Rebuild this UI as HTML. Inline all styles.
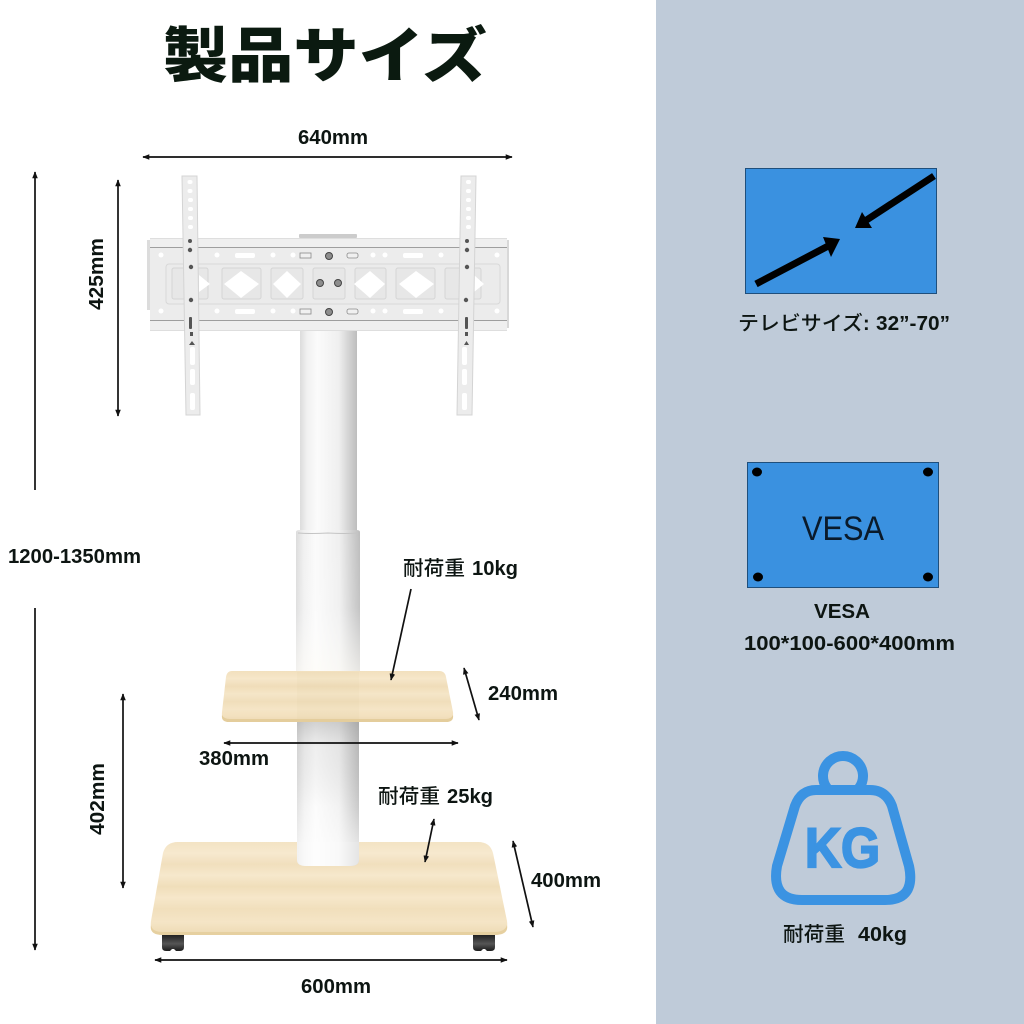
<!DOCTYPE html>
<html><head><meta charset="utf-8"><style>
html,body{margin:0;padding:0;background:#fff}
svg{display:block}
text{font-family:"Liberation Sans","Noto Sans CJK JP",sans-serif;font-weight:700;fill:#0d1512;font-size:20px}
.j{font-family:"Noto Sans CJK JP",sans-serif;font-weight:500;font-size:20px}
</style></head><body>
<svg width="1024" height="1024" viewBox="0 0 1024 1024" xmlns="http://www.w3.org/2000/svg">
<defs>
<linearGradient id="col" x1="0" x2="1" y1="0" y2="0">
<stop offset="0" stop-color="#dcdcdc"/><stop offset=".12" stop-color="#f0f0f0"/><stop offset=".3" stop-color="#fbfbfb"/><stop offset=".68" stop-color="#efefef"/><stop offset=".88" stop-color="#cfcfcf"/><stop offset="1" stop-color="#bdbdbd"/>
</linearGradient>
<linearGradient id="sl" x1="0" x2="0" y1="0" y2="1">
<stop offset="0" stop-color="#fff" stop-opacity="0"/><stop offset=".55" stop-color="#fff" stop-opacity=".1"/><stop offset="1" stop-color="#fffdf8" stop-opacity=".65"/>
</linearGradient>
<linearGradient id="lowc" x1="0" x2="0" y1="0" y2="1">
<stop offset="0" stop-color="#888" stop-opacity=".4"/><stop offset=".2" stop-color="#999" stop-opacity=".12"/><stop offset=".6" stop-color="#fff" stop-opacity=".2"/><stop offset="1" stop-color="#fff" stop-opacity=".8"/>
</linearGradient>
<linearGradient id="w1" x1="0" x2="0" y1="0" y2="1">
<stop offset="0" stop-color="#f2e0bd"/><stop offset=".15" stop-color="#f6e7ca"/><stop offset=".3" stop-color="#f0ddb9"/><stop offset=".45" stop-color="#f5e6c8"/><stop offset=".6" stop-color="#f0debb"/><stop offset=".75" stop-color="#f5e5c6"/><stop offset=".88" stop-color="#f3e1bf"/><stop offset="1" stop-color="#ecd8b0"/>
</linearGradient>
<linearGradient id="w2" x1="0" x2="0" y1="0" y2="1">
<stop offset="0" stop-color="#f3e3c3"/><stop offset=".12" stop-color="#f7e9cf"/><stop offset=".24" stop-color="#f1dfbd"/><stop offset=".36" stop-color="#f6e8cc"/><stop offset=".48" stop-color="#f0deba"/><stop offset=".6" stop-color="#f6e7ca"/><stop offset=".72" stop-color="#f1dfbc"/><stop offset=".86" stop-color="#f5e5c6"/><stop offset="1" stop-color="#eddab3"/>
</linearGradient>
<linearGradient id="wh" x1="0" x2="0" y1="0" y2="1"><stop offset="0" stop-color="#222"/><stop offset=".55" stop-color="#555"/><stop offset="1" stop-color="#1c1c1c"/></linearGradient>
<marker id="a" viewBox="0 0 10 8" refX="9" refY="4" markerWidth="7" markerHeight="5.600" markerUnits="userSpaceOnUse" orient="auto-start-reverse"><path d="M0 0L10 4L0 8Z" fill="#111"/></marker>
</defs>

<rect x="656" y="0" width="368" height="1024" fill="#bfcbd9"/>

<text x="163" y="77" style="font-family:'Noto Sans CJK JP',sans-serif;font-weight:900;font-size:60px;fill:#0b1a10" textLength="324" lengthAdjust="spacingAndGlyphs">製品サイズ</text>

<!-- column -->
<rect x="300" y="331" width="57" height="202" fill="url(#col)"/>
<path d="M296 532Q296 530 300 530L356 530Q360 530 360 532V672H296Z" fill="url(#col)"/>
<path d="M296 532Q296 530 300 530L356 530Q360 530 360 532V672H296Z" fill="url(#sl)"/>
<path d="M298 533Q310 534 328 533Q346 534 358 533" fill="none" stroke="#c4c4c4"/>
<path d="M297 718H359V860Q359 866 350 866H306Q297 866 297 860Z" fill="url(#col)"/>
<rect x="297" y="718" width="62" height="148" fill="url(#lowc)"/>

<!-- base -->
<path d="M178 842H478Q490 842 493 853L507 921Q509 935 494 935H163Q149 935 151 921L163 853Q166 842 178 842Z" fill="url(#w2)"/>
<path d="M151 925Q152 932 163 932H494Q505 932 507 925Q509 935 494 935H163Q149 935 151 925Z" fill="#e6d0a0"/>
<path d="M297 842H359V860Q359 866 350 866H306Q297 866 297 860Z" fill="url(#col)"/>
<path d="M297 842H359V860Q359 866 350 866H306Q297 866 297 860Z" fill="#fff" fill-opacity=".6"/>
<path d="M162 935H184V947Q184 951 180 951H176L174 949H172L170 951H166Q162 951 162 947Z" fill="url(#wh)"/>
<path d="M473 935H495V947Q495 951 491 951H487L485 949H483L481 951H477Q473 951 473 947Z" fill="url(#wh)"/>

<!-- shelf -->
<path d="M232 671H439Q445 671 446 677L453 712Q454 722 446 722H229Q221 722 222 712L226 677Q227 671 232 671Z" fill="url(#w1)"/>
<path d="M222 715Q224 719 230 719H446Q451 719 453 715Q454 722 446 722H229Q221 722 222 715Z" fill="#e4cd9c"/>
<rect x="297" y="672" width="62" height="47" fill="#cdb27e" fill-opacity=".05"/>

<!-- mount -->
<g>
<rect x="147" y="240" width="5" height="70" fill="#dcdcdc"/><rect x="504" y="240" width="5" height="88" fill="#d8d8d8"/>
<rect x="299" y="234" width="58" height="4" rx="1" fill="#cccccc"/>
<rect x="150" y="238" width="357" height="93" fill="#efefef"/>
<rect x="150" y="247" width="357" height="73" fill="#ececec"/>
<path d="M150 247.500H507M150 320.500H507" stroke="#9e9e9e"/>
<path d="M150 238.500H507M150 330.500H507" stroke="#dedede"/>
<rect x="166" y="264" width="334" height="40" rx="3" fill="#ebebeb" stroke="#d8d8d8"/>
<g stroke="#d4d4d4" fill="#e7e7e7">
<rect x="172" y="268" width="36" height="31" rx="2"/>
<rect x="222" y="268" width="39" height="31" rx="2"/>
<rect x="271" y="268" width="32" height="31" rx="2"/>
<rect x="313" y="268" width="32" height="31" rx="2"/>
<rect x="355" y="268" width="31" height="31" rx="2"/>
<rect x="396" y="268" width="39" height="31" rx="2"/>
<rect x="445" y="268" width="36" height="31" rx="2"/>
</g>
<g fill="#fff">
<path d="M224 284L241 271L259 284L241 298Z"/><path d="M273 284L287 271L301 284L287 298Z"/>
<path d="M354 284L370 271L385 284L370 298Z"/><path d="M399 284L416 271L434 284L416 298Z"/>
<path d="M199 275L210 284L199 292Z"/><path d="M474 275L484 284L474 292Z"/>
<rect x="235" y="253" width="20" height="5" rx="2"/><rect x="235" y="309" width="20" height="5" rx="2"/>
<rect x="403" y="253" width="20" height="5" rx="2"/><rect x="403" y="309" width="20" height="5" rx="2"/>
<circle cx="217" cy="255" r="2.500"/><circle cx="273" cy="255" r="2.500"/><circle cx="293" cy="255" r="2.500"/><circle cx="373" cy="255" r="2.500"/><circle cx="385" cy="255" r="2.500"/><circle cx="441" cy="255" r="2.500"/><circle cx="497" cy="255" r="2.500"/><circle cx="161" cy="255" r="2.500"/>
<circle cx="217" cy="311" r="2.500"/><circle cx="273" cy="311" r="2.500"/><circle cx="293" cy="311" r="2.500"/><circle cx="373" cy="311" r="2.500"/><circle cx="385" cy="311" r="2.500"/><circle cx="441" cy="311" r="2.500"/><circle cx="497" cy="311" r="2.500"/><circle cx="161" cy="311" r="2.500"/>
</g>
<g fill="#f0f0f0" stroke="#8a8a8a" stroke-width=".8">
<rect x="300" y="253" width="11" height="5"/><rect x="347" y="253" width="11" height="5" rx="2"/>
<rect x="300" y="309" width="11" height="5"/><rect x="347" y="309" width="11" height="5" rx="2"/>
</g>
<g fill="#8d8d8d" stroke="#444" stroke-width="1">
<circle cx="329" cy="256" r="3.500"/><circle cx="329" cy="312" r="3.500"/><circle cx="320" cy="283" r="3.500"/><circle cx="338" cy="283" r="3.500"/>
</g>
<!-- strips -->
<path d="M182 176H197L200 415H186Z" fill="#ececec" stroke="#d4d4d4"/>
<path d="M461 176H476L472 415H457Z" fill="#ececec" stroke="#d4d4d4"/>
<g fill="#fff">
<rect x="187.500" y="180" width="5" height="4" rx="2"/><rect x="187.500" y="189" width="5" height="4" rx="2"/><rect x="188" y="198" width="5" height="4" rx="2"/><rect x="188" y="207" width="5" height="4" rx="2"/><rect x="188" y="216" width="5" height="4" rx="2"/><rect x="188" y="225" width="5" height="4" rx="2"/>
<rect x="466" y="180" width="5" height="4" rx="2"/><rect x="466" y="189" width="5" height="4" rx="2"/><rect x="466" y="198" width="5" height="4" rx="2"/><rect x="466" y="207" width="5" height="4" rx="2"/><rect x="466" y="216" width="5" height="4" rx="2"/><rect x="466" y="225" width="5" height="4" rx="2"/>
<rect x="190" y="347" width="5" height="18" rx="2"/><rect x="190" y="369" width="5" height="16" rx="2"/><rect x="190" y="393" width="5" height="17" rx="2"/>
<rect x="462" y="347" width="5" height="18" rx="2"/><rect x="462" y="369" width="5" height="16" rx="2"/><rect x="462" y="393" width="5" height="17" rx="2"/>
</g>
<g fill="#555">
<circle cx="190" cy="241" r="2"/><circle cx="190" cy="250" r="2.200"/><circle cx="191" cy="267" r="2.200"/><circle cx="191" cy="300" r="2.200"/>
<circle cx="467" cy="241" r="2"/><circle cx="467" cy="250" r="2.200"/><circle cx="467" cy="267" r="2.200"/><circle cx="466" cy="300" r="2.200"/>
<rect x="189" y="317" width="3" height="12" rx="1"/><rect x="465" y="317" width="3" height="12" rx="1"/>
<rect x="190" y="332" width="3" height="4"/><path d="M189 345L192 341L195 345Z"/>
<rect x="465" y="332" width="3" height="4"/><path d="M464 345L466.500 341L469 345Z"/>
</g>
</g>

<!-- dims -->
<g stroke="#111" stroke-width="1.700" fill="none">
<line x1="143" y1="157" x2="512" y2="157" marker-start="url(#a)" marker-end="url(#a)"/>
<line x1="118" y1="180" x2="118" y2="416" marker-start="url(#a)" marker-end="url(#a)"/>
<line x1="35" y1="172" x2="35" y2="490" marker-start="url(#a)"/>
<line x1="35" y1="608" x2="35" y2="950" marker-end="url(#a)"/>
<line x1="411" y1="589" x2="391" y2="680" marker-end="url(#a)"/>
<line x1="464" y1="668" x2="479" y2="720" marker-start="url(#a)" marker-end="url(#a)"/>
<line x1="224" y1="743" x2="458" y2="743" marker-start="url(#a)" marker-end="url(#a)"/>
<line x1="123" y1="694" x2="123" y2="888" marker-start="url(#a)" marker-end="url(#a)"/>
<line x1="434" y1="819" x2="425" y2="862" marker-start="url(#a)" marker-end="url(#a)"/>
<line x1="513" y1="841" x2="533" y2="927" marker-start="url(#a)" marker-end="url(#a)"/>
<line x1="155" y1="960" x2="507" y2="960" marker-start="url(#a)" marker-end="url(#a)"/>
</g>

<text x="298" y="144" textLength="70" lengthAdjust="spacingAndGlyphs">640mm</text>
<text transform="translate(103 310) rotate(-90)" textLength="72" lengthAdjust="spacingAndGlyphs">425mm</text>
<text x="8" y="563" textLength="133" lengthAdjust="spacingAndGlyphs">1200-1350mm</text>
<text class="j" x="403" y="575" textLength="62" lengthAdjust="spacingAndGlyphs">耐荷重</text><text x="472" y="575" textLength="46" lengthAdjust="spacingAndGlyphs">10kg</text>
<text x="488" y="700" textLength="70" lengthAdjust="spacingAndGlyphs">240mm</text>
<text x="199" y="765" textLength="70" lengthAdjust="spacingAndGlyphs">380mm</text>
<text transform="translate(104 835) rotate(-90)" textLength="72" lengthAdjust="spacingAndGlyphs">402mm</text>
<text class="j" x="378" y="803" textLength="62" lengthAdjust="spacingAndGlyphs">耐荷重</text><text x="447" y="803" textLength="46" lengthAdjust="spacingAndGlyphs">25kg</text>
<text x="531" y="887" textLength="70" lengthAdjust="spacingAndGlyphs">400mm</text>
<text x="301" y="993" textLength="70" lengthAdjust="spacingAndGlyphs">600mm</text>

<!-- TV size -->
<rect x="745.500" y="168.500" width="191" height="125" fill="#3a91e0" stroke="#1f4f7c"/>
<g stroke="#000" stroke-width="7" fill="none"><line x1="756" y1="284" x2="832" y2="244"/><line x1="934" y1="176" x2="862" y2="223"/></g>
<path d="M840 239L823 237L831 257Z" fill="#000"/><path d="M855 228L862 212L872 228Z" fill="#000"/>
<text class="j" x="738" y="330" textLength="125" lengthAdjust="spacingAndGlyphs">テレビサイズ</text>
<text x="863" y="330">:</text>
<text x="876" y="330" textLength="74" lengthAdjust="spacingAndGlyphs">32”-70”</text>

<!-- VESA -->
<rect x="747.500" y="462.500" width="191" height="125" fill="#3a91e0" stroke="#1f4f7c"/>
<g fill="#000"><ellipse cx="757" cy="472" rx="5" ry="4.500"/><ellipse cx="928" cy="472" rx="5" ry="4.500"/><ellipse cx="758" cy="577" rx="5" ry="4.500"/><ellipse cx="928" cy="577" rx="5" ry="4.500"/></g>
<text x="802" y="540" textLength="82" lengthAdjust="spacingAndGlyphs" style="font-size:34px;font-weight:400;fill:#0a1a2a">VESA</text>
<text x="814" y="618" textLength="56" lengthAdjust="spacingAndGlyphs">VESA</text>
<text x="744" y="650" textLength="211" lengthAdjust="spacingAndGlyphs">100*100-600*400mm</text>

<!-- weight -->
<g fill="none" stroke="#3b93e2" stroke-width="10">
<path d="M827 788A20 20 0 1 1 859 788"/>
<path d="M816 790H870Q886 790 892 806L909 866Q916 900 885 900H802Q771 900 777 866L795 806Q801 790 816 790Z"/>
</g>
<text x="805" y="867" textLength="75" lengthAdjust="spacingAndGlyphs" style="font-size:56px;fill:#3b93e2;stroke:#3b93e2;stroke-width:2.200">KG</text>
<text class="j" x="783" y="941" textLength="62" lengthAdjust="spacingAndGlyphs">耐荷重</text><text x="858" y="941" textLength="49" lengthAdjust="spacingAndGlyphs">40kg</text>
</svg>
</body></html>
